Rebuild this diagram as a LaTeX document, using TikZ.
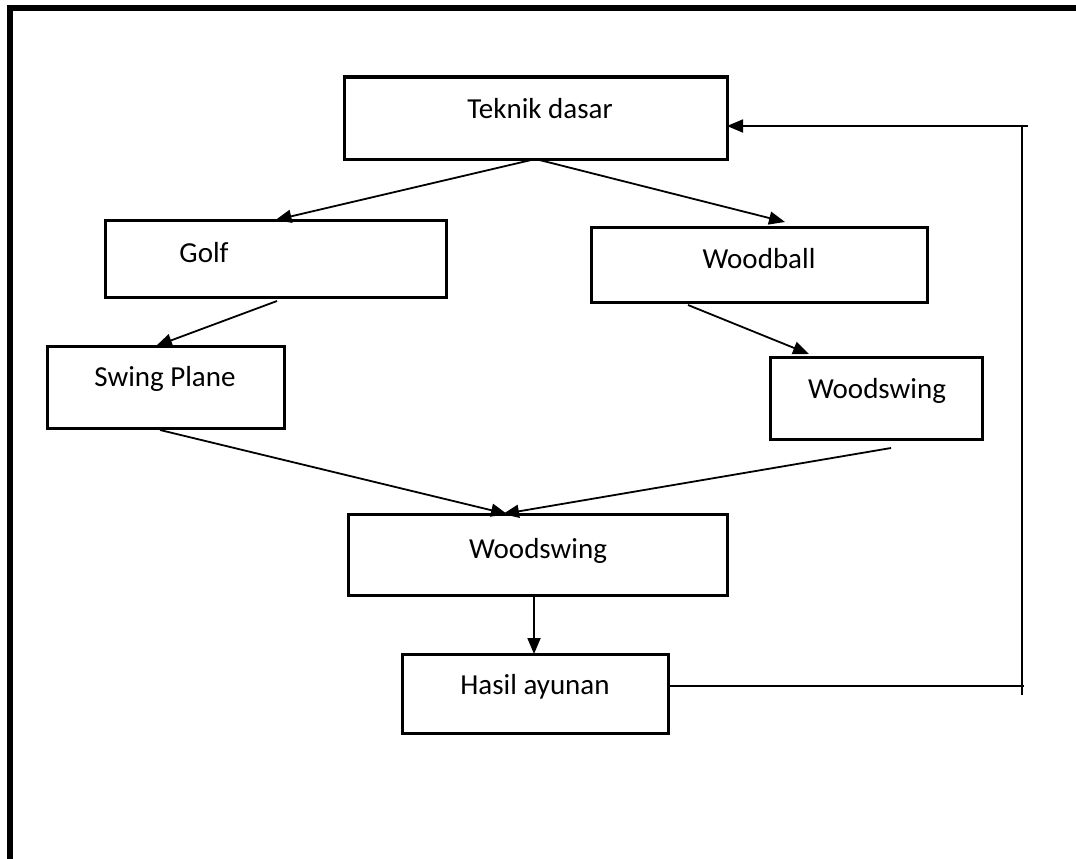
\documentclass[tikz,border=0pt]{standalone}
\usepackage{fontspec}
\setmainfont{Carlito}
\usetikzlibrary{arrows.meta}
\begin{document}
\begin{tikzpicture}[x=1pt,y=-1pt,
  box/.style={draw,line width=3pt,inner sep=0pt,outer sep=0pt},
  lbl/.style={anchor=base,inner sep=0pt,font=\fontsize{29}{34}\selectfont},
  conn/.style={line width=1.8pt},
  arr/.style={conn,-{Triangle[length=16pt,width=13pt]}},
  frame/.style={line width=6pt}]
\useasboundingbox (0,0) rectangle (1076,859);
% outer frame (left and top only)
\coordinate (ftr) at (1076,8);
\coordinate (fbl) at (10,859);
\draw[frame] (fbl) -- (10,5);
\draw[frame] (7,8) -- (ftr);
% boxes
\node[box,minimum width=383pt,minimum height=82pt] (teknik) at (535.5,118) {};
\node[box,minimum width=341pt,minimum height=77pt] (golf) at (275.5,258.5) {};
\node[box,minimum width=336pt,minimum height=75pt] (woodball) at (759,264.5) {};
\node[box,minimum width=237pt,minimum height=82pt] (swing) at (165.5,387) {};
\node[box,minimum width=212pt,minimum height=82pt] (wsR) at (876,398) {};
\node[box,minimum width=379pt,minimum height=81pt] (wsC) at (537.5,554.5) {};
\node[box,minimum width=266pt,minimum height=79pt] (hasil) at (535,693.5) {};
% labels
\node[lbl] (tteknik) at (540,118) {Teknik dasar};
\node[lbl] (tgolf) at (204,262) {Golf};
\node[lbl] (twoodball) at (759,268) {Woodball};
\node[lbl] (tswing) at (165,386) {Swing Plane};
\node[lbl] (twsR) at (877,398) {Woodswing};
\node[lbl] (twsC) at (538,558) {Woodswing};
\node[lbl] (thasil) at (535,694) {Hasil ayunan};
% connector end points
\coordinate (wbin) at (785,222);
\coordinate (golfout) at (277,301);
\coordinate (swingin) at (156,346);
\coordinate (wbout) at (688,305);
\coordinate (wsRin) at (809,354);
\coordinate (swout) at (160,430);
\coordinate (wsCinL) at (507,514);
\coordinate (wsRout) at (891,448);
\coordinate (wsCinR) at (503,514);
\coordinate (wsCout) at (534,597);
\coordinate (hasilin) at (534,654);
\coordinate (fbA) at (1024,686);
\coordinate (fbB) at (1022,695);
\coordinate (fbC) at (1022,126);
\coordinate (fbD) at (1028,126);
\coordinate (tekin) at (727,126);
% connectors
\draw[arr] (teknik.south) -- (golf.north);
\draw[arr] (teknik.south) -- (wbin);
\draw[arr] (golfout) -- (swingin);
\draw[arr] (wbout) -- (wsRin);
\draw[arr] (swout) -- (wsCinL);
\draw[arr] (wsRout) -- (wsCinR);
\draw[arr] (wsCout) -- (hasilin);
\draw[conn] (hasil.east |- fbA) -- (fbA);
\draw[conn] (fbB) -- (fbC);
\draw[arr] (fbD) -- (tekin);
\end{tikzpicture}
\end{document}
